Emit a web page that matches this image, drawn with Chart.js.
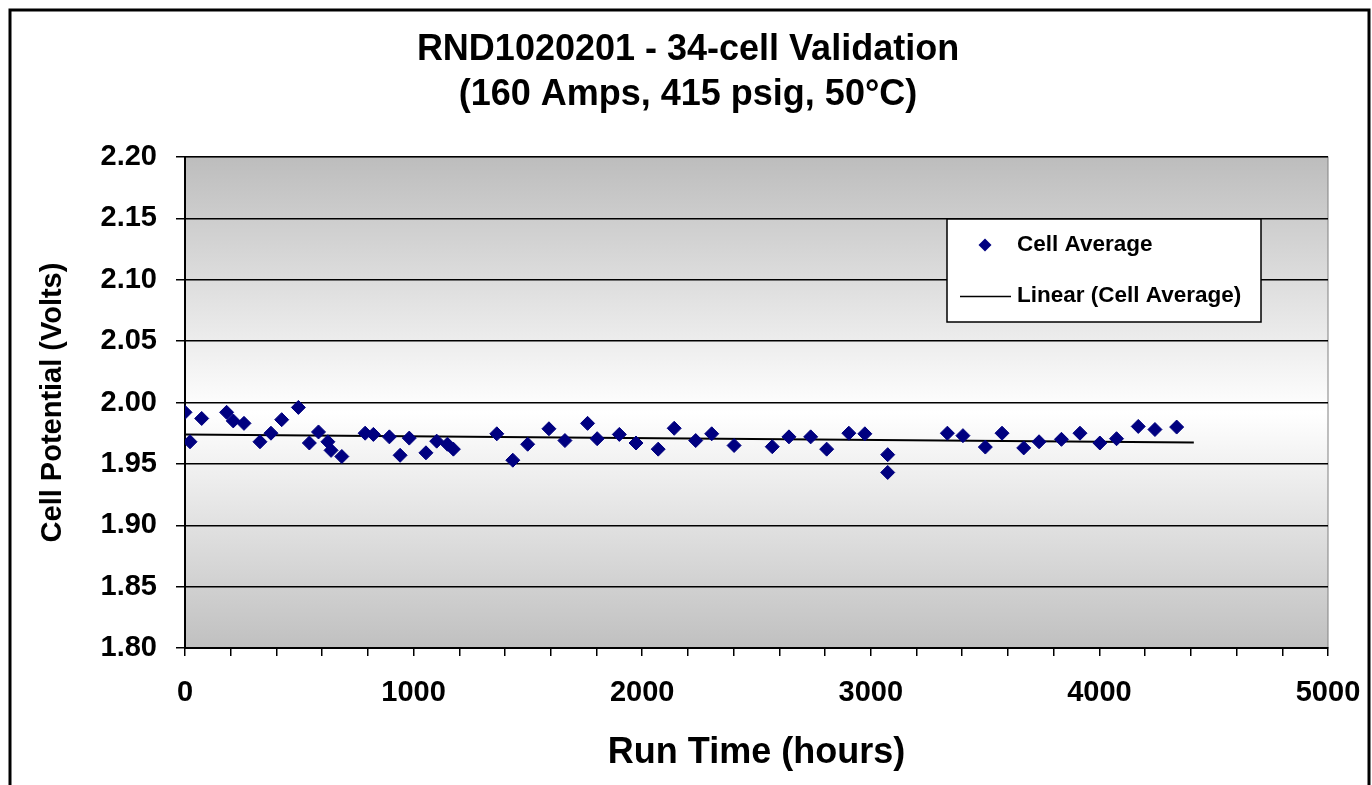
<!DOCTYPE html>
<html>
<head>
<meta charset="utf-8">
<script src="https://cdn.jsdelivr.net/npm/chart.js@4/dist/chart.umd.min.js"></script>
<style>
  html, body { margin: 0; padding: 0; background: #fff; }
  canvas { display: block; }
</style>
</head>
<body>
<canvas id="chart" width="1372" height="785"></canvas>
<script>
// Data -----------------------------------------------------------------
var titleLines = ["RND1020201 - 34-cell Validation", "(160 Amps, 415 psig, 50°C)"];
var seriesName = "Cell Average";
var trendName = "Linear (Cell Average)";

var runHours = [0, 22, 73, 182, 211, 258, 328, 376, 423, 496,
  544, 584, 625, 639, 686, 788, 824, 894, 941, 981,
  1054, 1101, 1148, 1174, 1364, 1434, 1499, 1592, 1662, 1761,
  1803, 1900, 1973, 2070, 2140, 2234, 2304, 2402, 2569, 2642,
  2737, 2807, 2904, 2974, 3074, 3074, 3335, 3403, 3501, 3574,
  3669, 3736, 3834, 3915, 4002, 4075, 4170, 4243, 4338];
var cellVolts = [1.992, 1.968, 1.987, 1.992, 1.985, 1.983, 1.968, 1.975, 1.986, 1.996,
  1.967, 1.976, 1.968, 1.961, 1.956, 1.975, 1.974, 1.972, 1.957, 1.971,
  1.959, 1.9685, 1.966, 1.962, 1.9745, 1.953, 1.966, 1.9786, 1.969, 1.983,
  1.9705, 1.974, 1.967, 1.962, 1.979, 1.969, 1.9745, 1.965, 1.964, 1.972,
  1.972, 1.962, 1.975, 1.9745, 1.9575, 1.943, 1.975, 1.973, 1.9637, 1.975,
  1.963, 1.968, 1.970, 1.975, 1.967, 1.9705, 1.9805, 1.978, 1.980];

// trend line end points as drawn in the picture
var trendHours = [0, 4413];
var trendVolts = [1.974, 1.9675];

var xMin = 0, xMax = 5000, xMinorStep = 200, xMajorStep = 1000;
var yMin = 1.80, yMax = 2.20, yStep = 0.05;

// Theme -------------------------------------------------------------------
var NAVY = "#000080";
Chart.defaults.font.family = "'Liberation Sans', Arial, Helvetica, sans-serif";
Chart.defaults.font.weight = "bold";
Chart.defaults.color = "#000";

function pairs(xs, ys) {
  return xs.map(function (x, i) { return { x: x, y: ys[i] }; });
}

// plot area fill: grey -> white -> grey, like the Excel original
var plotBackground = {
  id: "plotBackground",
  beforeDraw: function (chart) {
    var ctx = chart.ctx, a = chart.chartArea;
    var g = ctx.createLinearGradient(0, a.top, 0, a.bottom);
    g.addColorStop(0, "#bdbdbd");
    g.addColorStop(0.52, "#ffffff");
    g.addColorStop(1, "#c0c0c0");
    ctx.save();
    ctx.fillStyle = g;
    ctx.fillRect(a.left, a.top, a.right - a.left, a.bottom - a.top);
    ctx.strokeStyle = "#808080";
    ctx.lineWidth = 1;
    ctx.strokeRect(a.left, a.top, a.right - a.left, a.bottom - a.top);
    ctx.restore();
  }
};

// legend box inside the plot, drawn by hand to sit where the original does
var legendBox = {
  id: "legendBox",
  afterDatasetsDraw: function (chart) {
    var ctx = chart.ctx, a = chart.chartArea;
    var x = a.left + 762, y = a.top + 62, w = 314, h = 103;
    var ds = chart.data.datasets;
    ctx.save();
    ctx.fillStyle = "#fff";
    ctx.fillRect(x, y, w, h);
    ctx.strokeStyle = "#000";
    ctx.lineWidth = 1.5;
    ctx.strokeRect(x, y, w, h);

    // diamond marker
    var cx = x + 38, cy = y + 26, r = 6.5;
    ctx.fillStyle = NAVY;
    ctx.beginPath();
    ctx.moveTo(cx, cy - r); ctx.lineTo(cx + r, cy); ctx.lineTo(cx, cy + r); ctx.lineTo(cx - r, cy);
    ctx.closePath();
    ctx.fill();

    // trend line sample
    ctx.strokeStyle = "#000";
    ctx.lineWidth = 1.5;
    ctx.beginPath();
    ctx.moveTo(x + 13, y + 77.5); ctx.lineTo(x + 64, y + 77.5);
    ctx.stroke();

    ctx.fillStyle = "#000";
    ctx.font = "bold 22.5px 'Liberation Sans', Arial, sans-serif";
    ctx.textBaseline = "middle";
    ctx.textAlign = "left";
    ctx.fillText(ds[0].label, x + 70, cy);
    ctx.fillText(ds[1].label, x + 70, y + 77);
    ctx.restore();
  }
};

// outer frame of the slide
var frame = {
  id: "frame",
  afterDraw: function (chart) {
    var ctx = chart.ctx;
    ctx.save();
    ctx.strokeStyle = "#000";
    ctx.lineWidth = 3;
    ctx.beginPath();
    ctx.moveTo(10, 785); ctx.lineTo(10, 10); ctx.lineTo(1369, 10); ctx.lineTo(1369, 785);
    ctx.stroke();
    ctx.restore();
  }
};

new Chart(document.getElementById("chart"), {
  data: {
    datasets: [
      {
        type: "scatter",
        label: seriesName,
        data: pairs(runHours, cellVolts),
        pointStyle: "rectRot",
        radius: 7,
        backgroundColor: NAVY,
        borderColor: NAVY,
        borderWidth: 1,
        order: 1
      },
      {
        type: "line",
        label: trendName,
        data: pairs(trendHours, trendVolts),
        borderColor: "#000",
        borderWidth: 2,
        pointRadius: 0,
        fill: false,
        order: 2
      }
    ]
  },
  options: {
    responsive: false,
    animation: false,
    devicePixelRatio: 1,
    layout: { padding: { left: 48, right: 44, top: 0, bottom: 0 } },
    plugins: {
      legend: { display: false },
      tooltip: { enabled: false },
      title: {
        display: true,
        text: titleLines,
        color: "#000",
        font: { size: 36, weight: "bold", lineHeight: 1.25 },
        padding: { top: 28, bottom: 39 }
      }
    },
    scales: {
      x: {
        type: "linear",
        min: xMin, max: xMax,
        afterFit: function (s) { s.height = 137; s.paddingLeft = 0; s.paddingRight = 0; },
        ticks: {
          stepSize: xMinorStep,
          autoSkip: false,
          maxRotation: 0,
          padding: 20,
          font: { size: 29, weight: "bold" },
          callback: function (v) { return v % xMajorStep === 0 ? String(v) : ""; }
        },
        grid: { drawOnChartArea: false, drawTicks: true, tickLength: 8, color: "#000", lineWidth: 1.5 },
        border: { display: true, color: "#000", width: 2 },
        title: {
          display: true,
          text: "Run Time (hours)",
          color: "#000",
          font: { size: 36, weight: "bold" },
          padding: { top: 0, bottom: 10 }
        }
      },
      y: {
        type: "linear",
        min: yMin, max: yMax,
        afterFit: function (s) { s.width = 137; },
        ticks: {
          stepSize: yStep,
          padding: 19,
          font: { size: 29, weight: "bold" },
          callback: function (v) { return v.toFixed(2); }
        },
        grid: { color: "#000", lineWidth: 1.5, tickLength: 9 },
        border: { display: true, color: "#000", width: 2 },
        title: {
          display: true,
          text: "Cell Potential (Volts)",
          color: "#000",
          font: { size: 29, weight: "bold" },
          padding: { top: -12, bottom: 0 }
        }
      }
    }
  },
  plugins: [plotBackground, legendBox, frame]
});
</script>
</body>
</html>
